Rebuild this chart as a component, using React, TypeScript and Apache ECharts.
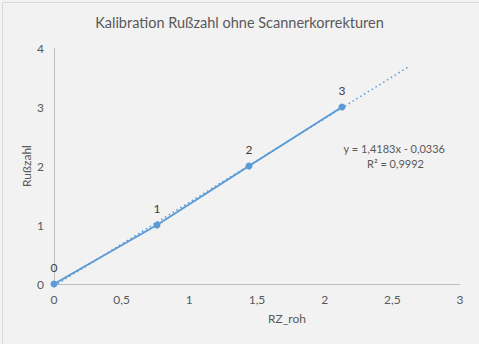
import React, { useEffect, useRef } from "react";
import * as echarts from "echarts";

const title = "Kalibration Rußzahl ohne Scannerkorrekturen";
const xName = "RZ_roh";
const yName = "Rußzahl";
const rzRoh = [0, 0.761, 1.441, 2.128];
const russzahl = [0, 1, 2, 3];
const trendSlope = 1.4183;
const trendIntercept = -0.0336;
const trendRange = [0, 2.63];
const equationLines = ["y = 1,4183x - 0,0336", "R² = 0,9992"];

const FONT = "Lato, 'Open Sans', sans-serif";
const TXT = "#595959";
const BLUE = "#5b9bd5";

const fmt = (v: number) => String(v).replace(".", ",");

export default function App() {
  const ref = useRef<HTMLDivElement>(null);
  useEffect(() => {
    if (!ref.current) return;
    const chart = echarts.init(ref.current, undefined, { renderer: "svg" });
    const points = rzRoh.map((x, i) => [x, russzahl[i]]);
    const trend = trendRange.map((x) => [x, trendSlope * x + trendIntercept]);
    chart.setOption({
      animation: false,
      backgroundColor: "#f2f2f2",
      textStyle: { fontFamily: FONT },
      title: {
        text: title,
        left: "center",
        top: 10,
        textStyle: { fontFamily: FONT, fontSize: 14.5, fontWeight: "normal", color: TXT },
      },
      grid: { left: 54, right: 19, top: 48, bottom: 60, containLabel: false },
      xAxis: {
        type: "value",
        min: 0,
        max: 3,
        interval: 0.5,
        axisLine: { show: true, lineStyle: { color: "#bfbfbf" } },
        axisTick: { show: false },
        splitLine: { show: false },
        axisLabel: { color: TXT, fontSize: 12, margin: 9, formatter: (v: number) => fmt(v) },
      },
      yAxis: {
        type: "value",
        min: 0,
        max: 4,
        interval: 1,
        axisLine: { show: true, onZero: false, lineStyle: { color: "#bfbfbf" } },
        axisTick: { show: false },
        splitLine: { show: false },
        axisLabel: { color: TXT, fontSize: 12, margin: 10, formatter: (v: number) => fmt(v) },
      },
      series: [
        {
          type: "line",
          data: points,
          symbol: "circle",
          symbolSize: 7,
          itemStyle: { color: BLUE },
          lineStyle: { color: BLUE, width: 2 },
          label: {
            show: true,
            position: "top",
            distance: 7,
            color: "#404040",
            fontSize: 12,
            fontFamily: FONT,
            formatter: (p: any) => fmt(p.value[1]),
          },
          z: 3,
        },
        {
          type: "line",
          data: trend,
          symbol: "none",
          lineStyle: { color: BLUE, width: 1.5, type: [1.5, 3] },
          z: 2,
        },
      ],
      graphic: [
        {
          type: "rect",
          left: 0,
          top: 0,
          shape: { width: 478, height: 343 },
          style: { fill: "none", stroke: "#d9d9d9", lineWidth: 1 },
          silent: true,
        },
        {
          type: "text",
          x: 26,
          y: 166,
          rotation: Math.PI / 2,
          style: {
            text: yName,
            fill: TXT,
            fontSize: 12,
            fontFamily: FONT,
            align: "center",
            verticalAlign: "middle",
          },
        },
        {
          type: "text",
          x: 287,
          y: 318,
          style: {
            text: xName,
            fill: TXT,
            fontSize: 12,
            fontFamily: FONT,
            align: "center",
            verticalAlign: "middle",
          },
        },
        {
          type: "text",
          x: 445,
          y: 148,
          style: {
            text: equationLines[0],
            fill: TXT,
            fontSize: 11,
            fontFamily: FONT,
            align: "right",
            verticalAlign: "middle",
          },
        },
        {
          type: "text",
          x: 424,
          y: 163,
          style: {
            text: equationLines[1],
            fill: TXT,
            fontSize: 11,
            fontFamily: FONT,
            align: "right",
            verticalAlign: "middle",
          },
        },
      ],
    });
    return () => chart.dispose();
  }, []);
  return (
    <div
      ref={ref}
      style={{ position: "fixed", left: 0, top: 0, width: 479, height: 344 }}
    />
  );
}
